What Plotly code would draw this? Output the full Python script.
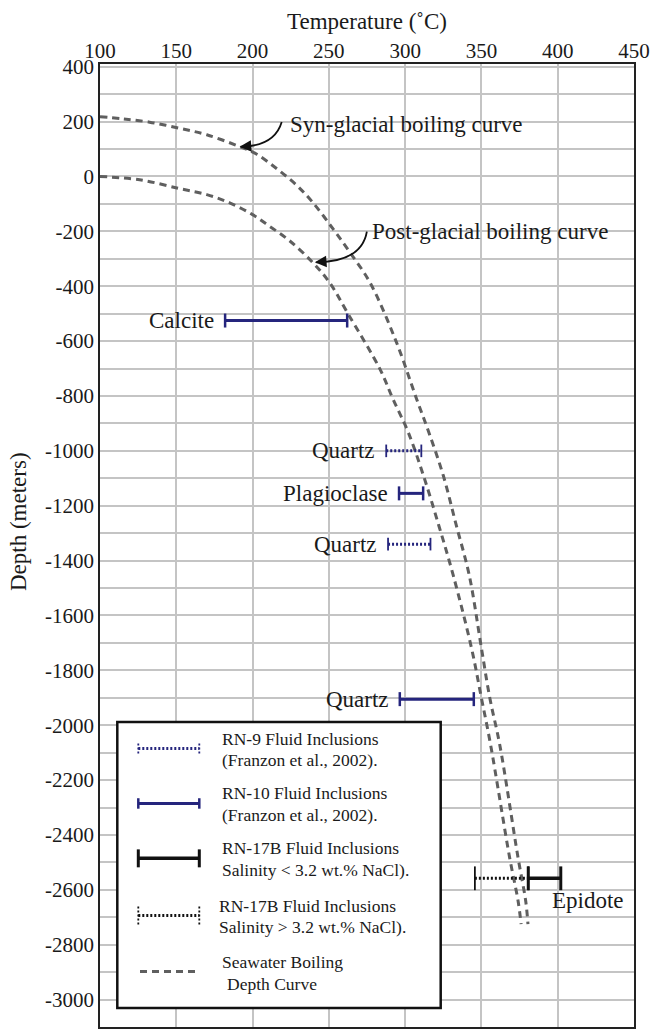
import plotly.graph_objects as go

# ---- boiling-point-with-depth curves (temperature in degC, depth in m) ----
syn_T = [100, 115, 132.5, 152, 170, 191.5, 202.5, 215.5, 228.5, 239.5, 253, 264, 277,
         294, 307.5, 315.5, 325, 333.5, 342, 350, 355.5, 362, 374, 379, 380.5]
syn_D = [218, 210, 198, 176, 152, 109, 82, 30, -30, -95, -193, -278, -387,
         -600, -811, -932, -1090, -1271, -1453, -1719, -1901, -2071, -2483, -2640, -2725]

post_T = [100, 126, 152, 170, 185, 200, 211, 224, 239.5, 250.5, 262.5, 283.5, 292,
          302, 312, 322, 331.5, 343.5, 350, 356, 368.5, 374, 376]
post_D = [0, -12, -44, -66, -96, -139, -181, -233, -314, -387, -500, -702, -811,
          -932, -1090, -1271, -1453, -1719, -1901, -2071, -2483, -2640, -2725]

# ---- fluid inclusion homogenisation ranges ----
rn9_label = ["Quartz", "Quartz"]
rn9_tmin = [287.6, 288.8]
rn9_tmax = [310.6, 316.6]
rn9_depth = [-1000, -1340]

rn10_label = ["Calcite", "Plagioclase", "Quartz"]
rn10_tmin = [182, 296, 296.5]
rn10_tmax = [262, 311.8, 345]
rn10_depth = [-525, -1155, -1905]

rn17_low_tmin = [380.7]
rn17_low_tmax = [402]
rn17_low_depth = [-2558]

rn17_high_tmin = [345.7]
rn17_high_tmax = [380.7]
rn17_high_depth = [-2558]

epidote_label = "Epidote"

x_ticks = [100, 150, 200, 250, 300, 350, 400, 450]
y_ticks = list(range(-3000, 401, 200))
y_ticktext = [str(v) for v in y_ticks]

# ---- styling ----
FONT = "Liberation Serif"
TXT = "#1a1a1a"
NAVY = "#25257d"
BLACK = "#111111"
CURVE = "#5f5f5f"
W, H = 656, 1031
ML, MR, MT, MB = 100, 22, 64, 2
PW, PH = W - ML - MR, H - MT - MB


def fx(px):
    return (px - ML) / PW


def fy(py):
    return (H - MB - py) / PH


def ranges(tmin, tmax, depth):
    xs, ys = [], []
    for a, b, d in zip(tmin, tmax, depth):
        xs += [a, b, None]
        ys += [d, d, None]
    return xs, ys


fig = go.Figure()

for T, D in [(syn_T, syn_D), (post_T, post_D)]:
    fig.add_trace(go.Scatter(x=T, y=D, mode="lines", line_shape="spline",
                             line=dict(color=CURVE, width=3, dash="7px,5px", smoothing=1),
                             hoverinfo="skip", showlegend=False))


def add_ranges(tmin, tmax, depth, color, width, dash, cap, capw):
    xs, ys = ranges(tmin, tmax, depth)
    fig.add_trace(go.Scatter(x=xs, y=ys, mode="lines", line=dict(color=color, width=width, dash=dash),
                             hoverinfo="skip", showlegend=False))
    fig.add_trace(go.Scatter(x=xs, y=ys, mode="markers",
                             marker=dict(symbol="line-ns", size=cap, color=color,
                                         line=dict(color=color, width=capw)),
                             hoverinfo="skip", showlegend=False))


add_ranges(rn9_tmin, rn9_tmax, rn9_depth, NAVY, 3, "2px,2px", 9, 1.8)
add_ranges(rn10_tmin, rn10_tmax, rn10_depth, NAVY, 3, "solid", 10, 2.5)
add_ranges(rn17_high_tmin, rn17_high_tmax, rn17_high_depth, BLACK, 3, "2px,2px", 17, 1.8)
add_ranges(rn17_low_tmin, rn17_low_tmax, rn17_low_depth, BLACK, 3.5, "solid", 17, 3)

annotations = []
for lab, t, d in zip(rn10_label + rn9_label, rn10_tmin + rn9_tmin, rn10_depth + rn9_depth):
    annotations.append(dict(x=t, y=d, xref="x", yref="y", text=lab, showarrow=False,
                            xanchor="right", yanchor="middle", xshift=-9,
                            font=dict(family=FONT, size=23, color=TXT)))
annotations.append(dict(x=rn17_low_tmax[0], y=rn17_low_depth[0], xref="x", yref="y",
                        text=epidote_label, showarrow=False, xanchor="left", yanchor="middle",
                        xshift=-11, yshift=-22, font=dict(family=FONT, size=23, color=TXT)))

# curve labels with curved leader arrows
annotations.append(dict(x=fx(288), y=fy(125), xref="paper", yref="paper",
                        text="Syn-glacial boiling curve", showarrow=False,
                        xanchor="left", yanchor="middle", font=dict(family=FONT, size=23, color=TXT)))
annotations.append(dict(x=fx(370), y=fy(232), xref="paper", yref="paper",
                        text="Post-glacial boiling curve", showarrow=False,
                        xanchor="left", yanchor="middle", font=dict(family=FONT, size=23, color=TXT)))

shapes = [
    dict(type="path", xref="x", yref="y", path="M 219.1,199 Q 214.5,112 192.5,108",
         line=dict(color=BLACK, width=1.8)),
    dict(type="path", xref="x", yref="y", path="M 274.9,-201 Q 271.6,-310 241.8,-313",
         line=dict(color=BLACK, width=1.8)),
]
for hx, hy in [(191.5, 108), (240.8, -313)]:
    annotations.append(dict(x=hx, y=hy, xref="x", yref="y", ax=13, ay=-1, text="",
                            showarrow=True, arrowhead=2, arrowsize=1.3, arrowwidth=1.8,
                            arrowcolor=BLACK))

# axis titles
annotations.append(dict(x=0.5, y=fy(21), xref="paper", yref="paper", text="Temperature (˚C)",
                        showarrow=False, xanchor="center", yanchor="middle",
                        font=dict(family=FONT, size=23, color=TXT)))
annotations.append(dict(x=fx(18), y=fy(523), xref="paper", yref="paper", text="Depth (meters)",
                        showarrow=False, textangle=-90, xanchor="center", yanchor="middle",
                        font=dict(family=FONT, size=23, color=TXT)))

# ---- legend box ----
shapes.append(dict(type="rect", xref="paper", yref="paper", x0=fx(117.3), x1=fx(440.7),
                   y0=fy(1010), y1=fy(723.3), line=dict(color=BLACK, width=2.5),
                   fillcolor="white", layer="above"))

legend_rows = [
    dict(y=750, color=NAVY, width=3, dash="2px,2px", cap=10, capw=1.8, capdash="2px,2px",
         lines=["RN-9 Fluid Inclusions", "(Franzon et al., 2002)."], tx=220),
    dict(y=805, color=NAVY, width=3, dash="solid", cap=10.5, capw=2.5, capdash="solid",
         lines=["RN-10 Fluid Inclusions", "(Franzon et al., 2002)."], tx=220),
    dict(y=860, color=BLACK, width=3.5, dash="solid", cap=18, capw=3, capdash="solid",
         lines=["RN-17B Fluid Inclusions", "Salinity < 3.2 wt.% NaCl)."], tx=220),
    dict(y=917.3, color=BLACK, width=3, dash="2px,2px", cap=18, capw=1.8, capdash="2px,2px",
         lines=["RN-17B Fluid Inclusions", "Salinity > 3.2 wt.% NaCl)."], tx=217.3),
]
for row in legend_rows:
    y = row["y"]
    shapes.append(dict(type="line", xref="paper", yref="paper", x0=fx(138.3), x1=fx(199.3),
                       y0=fy(y), y1=fy(y), line=dict(color=row["color"], width=row["width"],
                                                     dash=row["dash"])))
    for cx in (138.3, 199.3):
        shapes.append(dict(type="line", xref="paper", yref="paper", x0=fx(cx), x1=fx(cx),
                           y0=fy(y - row["cap"] / 2), y1=fy(y + row["cap"] / 2),
                           line=dict(color=row["color"], width=row["capw"], dash=row["capdash"])))
    for i, t in enumerate(row["lines"]):
        annotations.append(dict(x=fx(row["tx"]), y=fy(y - 10 + 21.7 * i), xref="paper", yref="paper",
                                text=t, showarrow=False, xanchor="left", yanchor="middle",
                                font=dict(family=FONT, size=17.5, color=TXT)))

shapes.append(dict(type="line", xref="paper", yref="paper", x0=fx(140), x1=fx(196),
                   y0=fy(973.3), y1=fy(973.3), line=dict(color=CURVE, width=3, dash="7px,5px")))
annotations.append(dict(x=fx(220), y=fy(964), xref="paper", yref="paper", text="Seawater Boiling",
                        showarrow=False, xanchor="left", yanchor="middle",
                        font=dict(family=FONT, size=17.5, color=TXT)))
annotations.append(dict(x=fx(225), y=fy(985.7), xref="paper", yref="paper", text="Depth Curve",
                        showarrow=False, xanchor="left", yanchor="middle",
                        font=dict(family=FONT, size=17.5, color=TXT)))

fig.update_layout(
    width=W, height=H,
    margin=dict(l=ML, r=MR, t=MT, b=MB, pad=0),
    paper_bgcolor="white", plot_bgcolor="white",
    showlegend=False,
    font=dict(family=FONT, size=21, color=TXT),
    shapes=shapes, annotations=annotations,
    xaxis=dict(range=[100, 450], side="top", tickvals=x_ticks, ticks="",
               ticklabelstandoff=-4,
               showgrid=True, gridcolor="#c4c4c4", gridwidth=1.5,
               showline=True, linecolor="#222222", linewidth=1.8, mirror=True,
               zeroline=False, tickfont=dict(family=FONT, size=21, color=TXT)),
    yaxis=dict(range=[-3100, 410], tickvals=y_ticks, ticktext=y_ticktext, ticks="",
               showgrid=True, gridcolor="#c4c4c4", gridwidth=1.5,
               minor=dict(dtick=100, tick0=0, showgrid=True, gridcolor="#c4c4c4", gridwidth=1.5),
               showline=True, linecolor="#222222", linewidth=1.8, mirror=True,
               zeroline=False, tickfont=dict(family=FONT, size=21, color=TXT)),
)

fig.write_html("out.html")
